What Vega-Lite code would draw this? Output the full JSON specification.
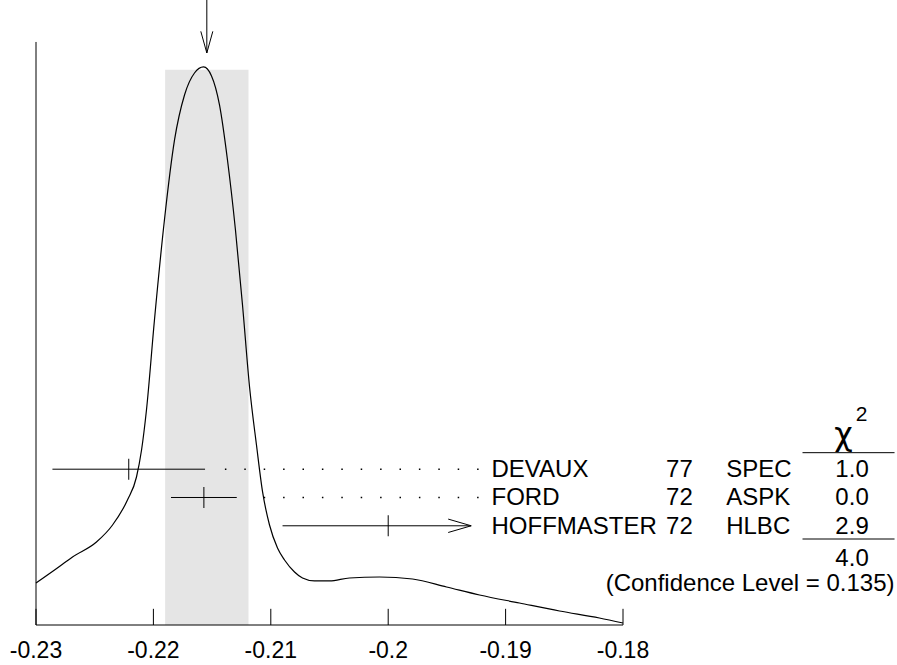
{
  "$schema": "https://vega.github.io/schema/vega-lite/v6.json",
  "width": 587,
  "height": 625,
  "autosize": {"type": "none"},
  "padding": {"left": 36, "top": 0, "right": 274, "bottom": 40},
  "background": "white",
  "config": {
    "view": {"stroke": null},
    "text": {"font": "Liberation Sans", "fontSize": 24, "color": "black"}
  },
  "datasets": {
    "curve": [
      {"x": -0.23, "y": 0.0753}, {"x": -0.22842, "y": 0.0986}, {"x": -0.22689, "y": 0.1219},
      {"x": -0.22485, "y": 0.1487}, {"x": -0.22348, "y": 0.1792}, {"x": -0.22221, "y": 0.224},
      {"x": -0.22144, "y": 0.2652}, {"x": -0.22101, "y": 0.3136}, {"x": -0.22059, "y": 0.3853},
      {"x": -0.21991, "y": 0.5466}, {"x": -0.21906, "y": 0.7258}, {"x": -0.2182, "y": 0.8692},
      {"x": -0.21735, "y": 0.9498}, {"x": -0.2165, "y": 0.9892}, {"x": -0.21573, "y": 1.0},
      {"x": -0.21505, "y": 0.9839}, {"x": -0.21437, "y": 0.9319}, {"x": -0.21369, "y": 0.8333},
      {"x": -0.21301, "y": 0.7079}, {"x": -0.21241, "y": 0.5735}, {"x": -0.21181, "y": 0.4265},
      {"x": -0.21122, "y": 0.3226}, {"x": -0.2107, "y": 0.2384}, {"x": -0.21011, "y": 0.1792},
      {"x": -0.20943, "y": 0.138}, {"x": -0.20883, "y": 0.1165}, {"x": -0.20798, "y": 0.095},
      {"x": -0.2073, "y": 0.0842}, {"x": -0.20628, "y": 0.0789}, {"x": -0.205, "y": 0.0789},
      {"x": -0.2033, "y": 0.0842}, {"x": -0.20074, "y": 0.086}, {"x": -0.19793, "y": 0.0824},
      {"x": -0.19503, "y": 0.0681}, {"x": -0.19222, "y": 0.0538}, {"x": -0.18882, "y": 0.0394},
      {"x": -0.18541, "y": 0.0251}, {"x": -0.18201, "y": 0.0125}, {"x": -0.18, "y": 0.0036}
    ],
    "fit": [{"mean": -0.21545, "lo": -0.219, "hi": -0.2119, "top": 0.995}],
    "axisticks": [{"v": -0.23}, {"v": -0.22}, {"v": -0.21}, {"v": -0.2}, {"v": -0.19}, {"v": -0.18}],
    "meas": [
      {"author": "DEVAUX", "year": "77", "method": "SPEC", "chi2": "1.0", "value": -0.2221, "lo": -0.2286, "hi": -0.2156, "row": 1},
      {"author": "FORD", "year": "72", "method": "ASPK", "chi2": "0.0", "value": -0.2157, "lo": -0.2185, "hi": -0.2129, "row": 2},
      {"author": "HOFFMASTER", "year": "72", "method": "HLBC", "chi2": "2.9", "value": -0.2, "lo": -0.209, "hi": -0.191, "row": 3}
    ],
    "summary": [{"total": "4.0", "cl": "(Confidence Level = 0.135)"}]
  },
  "layer": [
    {
      "data": {"name": "fit"},
      "mark": {"type": "rect", "color": "#e5e5e5"},
      "encoding": {
        "x": {"field": "lo", "type": "quantitative", "scale": {"domain": [-0.23, -0.18], "nice": false, "zero": false}, "axis": null},
        "x2": {"field": "hi"},
        "y": {"field": "top", "type": "quantitative", "scale": {"domain": [0, 1.12], "nice": false, "zero": false}, "axis": null},
        "y2": {"datum": 0}
      }
    },
    {
      "data": {"name": "axisticks"},
      "layer": [
        {
          "mark": {"type": "rule", "color": "black", "strokeWidth": 1},
          "encoding": {
            "x": {"field": "v", "type": "quantitative", "axis": null},
            "y": {"datum": 0, "type": "quantitative", "axis": null},
            "y2": {"datum": 0.029}
          }
        },
        {
          "mark": {"type": "text", "align": "center", "baseline": "alphabetic", "dy": 33, "fontSize": 23},
          "encoding": {
            "x": {"field": "v", "type": "quantitative", "axis": null},
            "y": {"datum": 0, "type": "quantitative", "axis": null},
            "text": {"field": "v", "type": "nominal"}
          }
        }
      ]
    },
    {
      "data": {"values": [{"v": -0.23, "w": -0.18}]},
      "layer": [
        {
          "mark": {"type": "rule", "color": "black", "strokeWidth": 1},
          "encoding": {
            "x": {"field": "v", "type": "quantitative", "axis": null},
            "x2": {"field": "w"},
            "y": {"datum": 0, "type": "quantitative", "axis": null}
          }
        },
        {
          "mark": {"type": "rule", "color": "black", "strokeWidth": 1},
          "encoding": {
            "x": {"field": "v", "type": "quantitative", "axis": null},
            "y": {"datum": 0, "type": "quantitative", "axis": null},
            "y2": {"datum": 1.0448}
          }
        }
      ]
    },
    {
      "data": {"name": "curve"},
      "mark": {"type": "line", "color": "black", "strokeWidth": 1.2, "interpolate": "monotone"},
      "encoding": {
        "x": {"field": "x", "type": "quantitative", "axis": null},
        "y": {"field": "y", "type": "quantitative", "axis": null}
      }
    },
    {
      "data": {"name": "fit"},
      "mark": {"type": "rule", "color": "black", "strokeWidth": 1},
      "encoding": {
        "x": {"field": "mean", "type": "quantitative", "axis": null},
        "y": {"datum": 1.12, "type": "quantitative", "axis": null},
        "y2": {"datum": 1.0251}
      }
    },
    {
      "data": {"name": "fit"},
      "mark": {"type": "point", "shape": "M -0.556 -2 L 0 0 L 0.556 -2", "size": 467, "filled": false, "color": "black", "strokeWidth": 1, "opacity": 1},
      "encoding": {
        "x": {"field": "mean", "type": "quantitative", "axis": null},
        "y": {"datum": 1.0251, "type": "quantitative", "axis": null}
      }
    },
    {
      "data": {"name": "meas"},
      "transform": [{"calculate": "0.32993 - 0.050717 * datum.row", "as": "ypos"}, {"calculate": "-0.1923", "as": "lead"}],
      "layer": [
        {
          "transform": [{"filter": "datum.hi <= -0.1929"}],
          "mark": {"type": "rule", "color": "black", "strokeWidth": 1.5, "strokeDash": [1.5, 17.9], "x2Offset": 9.4},
          "encoding": {
            "x": {"field": "lead", "type": "quantitative", "axis": null},
            "x2": {"field": "hi"},
            "y": {"field": "ypos", "type": "quantitative", "axis": null}
          }
        },
        {
          "transform": [{"filter": "datum.hi <= -0.1929"}],
          "mark": {"type": "rule", "color": "black", "strokeWidth": 1},
          "encoding": {
            "x": {"field": "lo", "type": "quantitative", "axis": null},
            "x2": {"field": "hi"},
            "y": {"field": "ypos", "type": "quantitative", "axis": null}
          }
        },
        {
          "transform": [{"filter": "datum.hi > -0.1929"}],
          "mark": {"type": "rule", "color": "black", "strokeWidth": 1},
          "encoding": {
            "x": {"field": "lo", "type": "quantitative", "axis": null},
            "x2": {"datum": -0.19293},
            "y": {"field": "ypos", "type": "quantitative", "axis": null}
          }
        },
        {
          "transform": [{"filter": "datum.hi > -0.1929"}],
          "mark": {"type": "point", "shape": "M -2 -0.583 L 0 0 L -2 0.583", "size": 529, "filled": false, "color": "black", "strokeWidth": 1, "opacity": 1},
          "encoding": {
            "x": {"datum": -0.19293, "type": "quantitative", "axis": null},
            "y": {"field": "ypos", "type": "quantitative", "axis": null}
          }
        },
        {
          "mark": {"type": "tick", "orient": "vertical", "size": 21, "thickness": 1, "color": "black", "opacity": 1},
          "encoding": {
            "x": {"field": "value", "type": "quantitative", "axis": null},
            "y": {"field": "ypos", "type": "quantitative", "axis": null}
          }
        },
        {
          "mark": {"type": "text", "align": "left", "baseline": "middle", "dy": 1},
          "encoding": {
            "x": {"datum": -0.1912, "type": "quantitative", "axis": null},
            "y": {"field": "ypos", "type": "quantitative", "axis": null},
            "text": {"field": "author"}
          }
        },
        {
          "mark": {"type": "text", "align": "right", "baseline": "middle", "dy": 1},
          "encoding": {
            "x": {"datum": -0.17406, "type": "quantitative", "axis": null},
            "y": {"field": "ypos", "type": "quantitative", "axis": null},
            "text": {"field": "year"}
          }
        },
        {
          "mark": {"type": "text", "align": "left", "baseline": "middle", "dy": 1},
          "encoding": {
            "x": {"datum": -0.17121, "type": "quantitative", "axis": null},
            "y": {"field": "ypos", "type": "quantitative", "axis": null},
            "text": {"field": "method"}
          }
        },
        {
          "mark": {"type": "text", "align": "center", "baseline": "middle", "dy": 1},
          "encoding": {
            "x": {"datum": -0.16049, "type": "quantitative", "axis": null},
            "y": {"field": "ypos", "type": "quantitative", "axis": null},
            "text": {"field": "chi2"}
          }
        }
      ]
    },
    {
      "data": {"name": "summary"},
      "mark": {"type": "rule", "color": "black", "strokeWidth": 1},
      "encoding": {
        "x": {"datum": -0.16471, "type": "quantitative", "axis": null},
        "x2": {"datum": -0.15687},
        "y": {"datum": 0.3088, "type": "quantitative", "axis": null}
      }
    },
    {
      "data": {"name": "summary"},
      "mark": {"type": "rule", "color": "black", "strokeWidth": 1},
      "encoding": {
        "x": {"datum": -0.16471, "type": "quantitative", "axis": null},
        "x2": {"datum": -0.15687},
        "y": {"datum": 0.1541, "type": "quantitative", "axis": null}
      }
    },
    {
      "data": {"name": "summary"},
      "mark": {"type": "text", "align": "center", "baseline": "middle", "dy": 1},
      "encoding": {
        "x": {"datum": -0.16049, "type": "quantitative", "axis": null},
        "y": {"datum": 0.1195, "type": "quantitative", "axis": null},
        "text": {"field": "total"}
      }
    },
    {
      "data": {"name": "summary"},
      "mark": {"type": "text", "align": "right", "baseline": "middle", "dy": 1},
      "encoding": {
        "x": {"datum": -0.15687, "type": "quantitative", "axis": null},
        "y": {"datum": 0.0753, "type": "quantitative", "axis": null},
        "text": {"field": "cl"}
      }
    },
    {
      "data": {"name": "summary"},
      "mark": {"type": "text", "align": "center", "baseline": "alphabetic", "font": "DejaVu Sans", "fontSize": 32, "text": "χ"},
      "encoding": {
        "x": {"datum": -0.16122, "type": "quantitative", "axis": null},
        "y": {"datum": 0.3226, "type": "quantitative", "axis": null}
      }
    },
    {
      "data": {"name": "summary"},
      "mark": {"type": "text", "align": "center", "baseline": "middle", "fontSize": 21, "text": "2"},
      "encoding": {
        "x": {"datum": -0.15968, "type": "quantitative", "axis": null},
        "y": {"datum": 0.3763, "type": "quantitative", "axis": null}
      }
    }
  ]
}
